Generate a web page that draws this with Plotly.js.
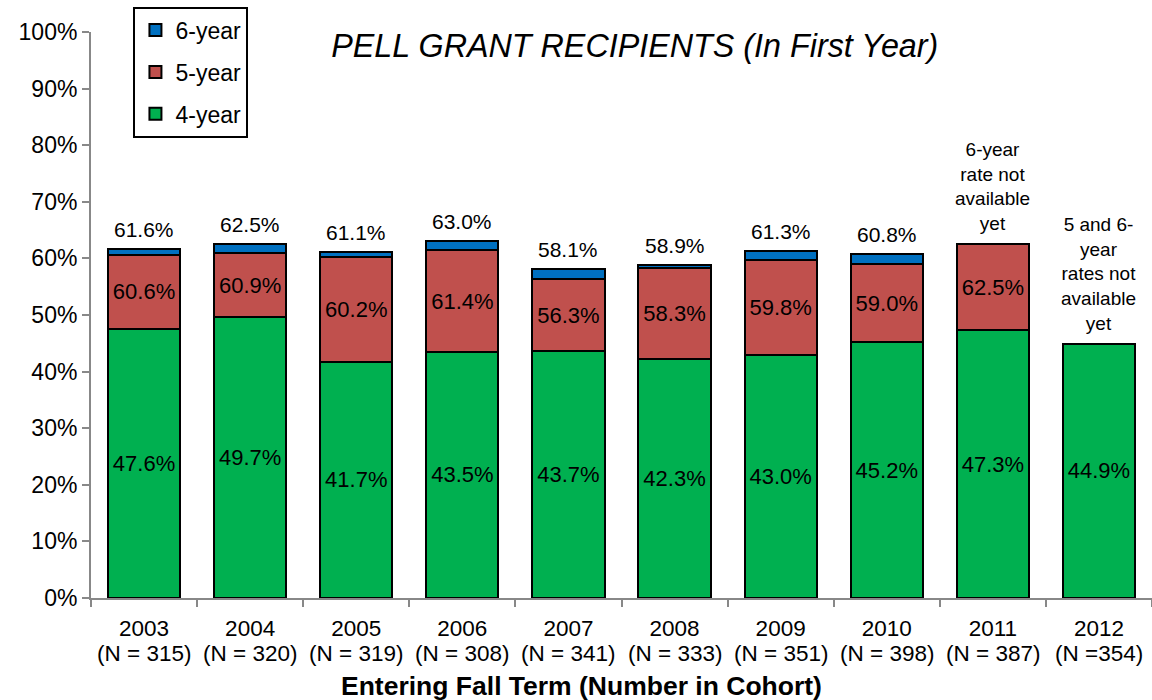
<!DOCTYPE html>
<html>
<head>
<meta charset="utf-8">
<script src="https://cdn.plot.ly/plotly-3.0.1.min.js"></script>
<style>html,body{margin:0;padding:0;background:#fff;}#chart{width:1152px;height:700px;}</style>
</head>
<body>
<div id="chart"></div>
<script>
const years = ['2003','2004','2005','2006','2007','2008','2009','2010','2011','2012'];
const cohortN = ['N = 315','N = 320','N = 319','N = 308','N = 341','N = 333','N = 351','N = 398','N = 387','N =354'];
const fourYear = [47.6, 49.7, 41.7, 43.5, 43.7, 42.3, 43.0, 45.2, 47.3, 44.9];
const fiveYear = [60.6, 60.9, 60.2, 61.4, 56.3, 58.3, 59.8, 59.0, 62.5, null];
const sixYear  = [61.6, 62.5, 61.1, 63.0, 58.1, 58.9, 61.3, 60.8, null, null];
const notes = {'2011': '6-year<br>rate not<br>available<br>yet', '2012': '5 and 6-<br>year<br>rates not<br>available<br>yet'};
const xTitle = 'Entering Fall Term (Number in Cohort)';

const fmt = v => v.toFixed(1) + '%';
const FONT = 'Liberation Sans, Arial, sans-serif';

const seg5 = fiveYear.map((v, i) => v == null ? null : +(v - fourYear[i]).toFixed(1));
const seg6 = sixYear.map((v, i) => v == null ? null : +(v - fiveYear[i]).toFixed(1));

const line = {color: '#000', width: 2};
const inFont = {family: FONT, size: 22, color: '#000'};
const traces = [
  {type: 'bar', name: '4-year', x: years, y: fourYear.map(v => v / 100),
   legendgroup: 'g4', legendrank: 3,
   marker: {color: '#00B050', line: line},
   text: fourYear.map(fmt), textposition: 'inside', insidetextanchor: 'middle',
   textangle: 0, constraintext: 'none', insidetextfont: inFont, hoverinfo: 'skip'},
  {type: 'bar', name: '5-year', x: years, y: seg5.map(v => v == null ? null : v / 100),
   legendgroup: 'g5', legendrank: 2,
   marker: {color: '#C0504D', line: line},
   text: fiveYear.map(v => v == null ? '' : fmt(v)), textposition: 'inside', insidetextanchor: 'middle',
   textangle: 0, constraintext: 'none', insidetextfont: inFont, hoverinfo: 'skip'},
  {type: 'bar', name: '6-year', x: years, y: seg6.map(v => v == null ? null : v / 100),
   legendgroup: 'g6', legendrank: 1,
   marker: {color: '#0070C0', line: line},
   textposition: 'none', hoverinfo: 'skip'}
];

const annotations = [];
years.forEach((y, i) => {
  if (sixYear[i] != null) {
    annotations.push({x: i, y: sixYear[i] / 100, xref: 'x', yref: 'y', yanchor: 'bottom', yshift: 6,
      text: fmt(sixYear[i]), showarrow: false, font: {family: FONT, size: 21, color: '#000'}});
  }
  if (notes[y]) {
    const top = fiveYear[i] != null ? fiveYear[i] : fourYear[i];
    annotations.push({x: i, y: top / 100, xref: 'x', yref: 'y', yanchor: 'bottom', yshift: 8,
      text: notes[y], showarrow: false, font: {family: FONT, size: 19, color: '#000'}});
  }
  annotations.push({x: i, y: 0, xref: 'x', yref: 'paper', yanchor: 'middle', yshift: -55,
    text: '(' + cohortN[i] + ')', showarrow: false, font: {family: FONT, size: 22.5, color: '#000'}});
});
annotations.push({x: 581, xref: 'paper', xanchor: 'center', y: 0, yref: 'paper', yanchor: 'middle', yshift: -88,
  text: '<b>' + xTitle + '</b>', showarrow: false, font: {family: FONT, size: 26.5, color: '#000'}});
// use pixel-based x for axis title (paper fraction computed below)
annotations[annotations.length - 1].x = (581 - 91) / (1152 - 91);

const layout = {
  width: 1152, height: 700,
  margin: {l: 91, r: 0, t: 32, b: 102},
  paper_bgcolor: '#fff', plot_bgcolor: '#fff',
  barmode: 'stack', bargap: 0.32,
  font: {family: FONT, color: '#000'},
  title: {text: '<i>PELL GRANT RECIPIENTS (In First Year)</i>', x: 0.551, xanchor: 'center',
    yref: 'container', y: 0.935, yanchor: 'middle',
    font: {family: FONT, size: 32.3, color: '#000'}},
  xaxis: {type: 'category', categoryorder: 'array', categoryarray: years, range: [-0.5, 9.5],
    autorange: false, showline: true, linecolor: '#888', linewidth: 2,
    ticks: 'outside', ticklen: 7, tickcolor: '#888', tickwidth: 2, tickson: 'boundaries',
    ticklabelstandoff: 9, tickangle: 0,
    tickfont: {family: FONT, size: 22.5, color: '#000'},
    fixedrange: true},
  yaxis: {range: [0, 1], tickformat: '.0%', dtick: 0.1, showgrid: false, zeroline: false,
    showline: true, linecolor: '#888', linewidth: 2, ticks: 'outside', ticklen: 7, tickcolor: '#888', tickwidth: 2,
    tickfont: {family: FONT, size: 23, color: '#000'}, fixedrange: true},
  legend: {x: 0.04, xanchor: 'left', y: 1.045, yanchor: 'top', traceorder: 'grouped', tracegroupgap: 9,
    bordercolor: '#000', borderwidth: 2, bgcolor: '#fff',
    font: {family: FONT, size: 23, color: '#000'}, itemwidth: 30},
  annotations: annotations,
  showlegend: true
};

Plotly.newPlot('chart', traces, layout, {displayModeBar: false, staticPlot: true});
</script>
</body>
</html>
